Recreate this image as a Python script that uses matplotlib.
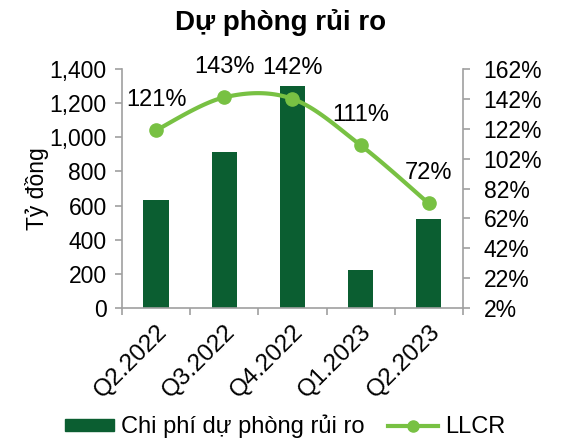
import numpy as np
import matplotlib
matplotlib.use("Agg")
import matplotlib.pyplot as plt
from matplotlib.lines import Line2D
from matplotlib.patches import Patch

plt.rcParams['font.family'] = ['Liberation Sans', 'DejaVu Sans']

categories = ["Q2.2022", "Q3.2022", "Q4.2022", "Q1.2023", "Q2.2023"]
provision = [633, 914, 1300, 222, 521]
llcr = [121, 143, 142, 111, 72]
llcr_labels = ["121%", "143%", "142%", "111%", "72%"]
left_ticks = [0, 200, 400, 600, 800, 1000, 1200, 1400]
right_ticks = [2, 22, 42, 62, 82, 102, 122, 142, 162]

bar_color = "#0B5E31"
line_color = "#78C143"
axis_color = "#A0A0A0"
FS = 16.5

fig = plt.figure(figsize=(5.61, 4.42), dpi=100)
ax = fig.add_axes([0.2175, 0.303, 0.6075, 0.541])
x = np.arange(len(categories))
ax.bar(x, provision, width=0.37, color=bar_color, zorder=2)
ax.set_xlim(-0.5, len(categories) - 0.5)
ax.set_ylim(0, 1400)
ax.set_yticks(left_ticks)
ax.set_yticklabels([f"{v:,}" for v in left_ticks], fontsize=FS)
ax.set_xticks(np.arange(-0.5, len(categories)), minor=False)
ax.set_xticklabels([])
ax.set_xticks(x, minor=True)
ax.set_xticklabels(categories, minor=True, rotation=45, ha='right', va='top',
                   rotation_mode='anchor', fontsize=17.5)
ax.tick_params(axis='x', which='minor', length=0, pad=9)
ax.tick_params(axis='x', which='major', length=5, color=axis_color, width=1.2)
ax.tick_params(axis='y', length=5, color=axis_color, width=1.2, pad=6)
ax.set_ylabel("Tỷ đồng", fontsize=FS, labelpad=0)
for s in ['top', 'right']:
    ax.spines[s].set_visible(False)
for s in ['left', 'bottom']:
    ax.spines[s].set_color(axis_color)
    ax.spines[s].set_linewidth(1.2)

ax2 = ax.twinx()
ax2.set_ylim(2, 162)
ax2.set_yticks(right_ticks)
ax2.set_yticklabels([f"{v}%" for v in right_ticks], fontsize=FS)
ax2.tick_params(axis='y', length=5, color=axis_color, width=1.2, pad=10)
for s in ['top', 'left', 'bottom']:
    ax2.spines[s].set_visible(False)
ax2.spines['right'].set_color(axis_color)
ax2.spines['right'].set_linewidth(1.2)

# Catmull-Rom smoothing through the data points (Excel-like smoothed line)
pts = np.column_stack([x, llcr]).astype(float)
ext = np.vstack([pts[0], pts, pts[-1]])
curve = []
for i in range(1, len(ext) - 2):
    p0, p1, p2, p3 = ext[i - 1], ext[i], ext[i + 1], ext[i + 2]
    for t in np.linspace(0, 1, 30, endpoint=False):
        t2, t3 = t * t, t * t * t
        c = 0.5 * ((2 * p1) + (-p0 + p2) * t + (2 * p0 - 5 * p1 + 4 * p2 - p3) * t2
                   + (-p0 + 3 * p1 - 3 * p2 + p3) * t3)
        curve.append(c)
curve.append(pts[-1])
curve = np.array(curve)
ax2.plot(curve[:, 0], curve[:, 1], color=line_color, lw=3, zorder=3, clip_on=False)
ax2.plot(x, llcr, 'o', color=line_color, ms=9.5, zorder=4, clip_on=False)

for xi, yi, lab in zip(x, llcr, llcr_labels):
    ax2.annotate(lab, (xi, yi), xytext=(0, 22), textcoords='offset points',
                 ha='center', va='center', fontsize=FS + 0.5)

fig.text(0.5, 0.948, "Dự phòng rủi ro", ha='center', va='center', fontsize=20, fontweight='bold')

handles = [Patch(color=bar_color, label="Chi phí dự phòng rủi ro"),
           Line2D([0], [0], color=line_color, lw=3, marker='o', ms=8, label="LLCR")]
fig.legend(handles=handles, loc='center', bbox_to_anchor=(0.508, 0.035), ncol=2,
           frameon=False, fontsize=17, handlelength=2.1, handleheight=0.45,
           columnspacing=1.0, handletextpad=0.3)

fig.savefig("out.png", dpi=100)
